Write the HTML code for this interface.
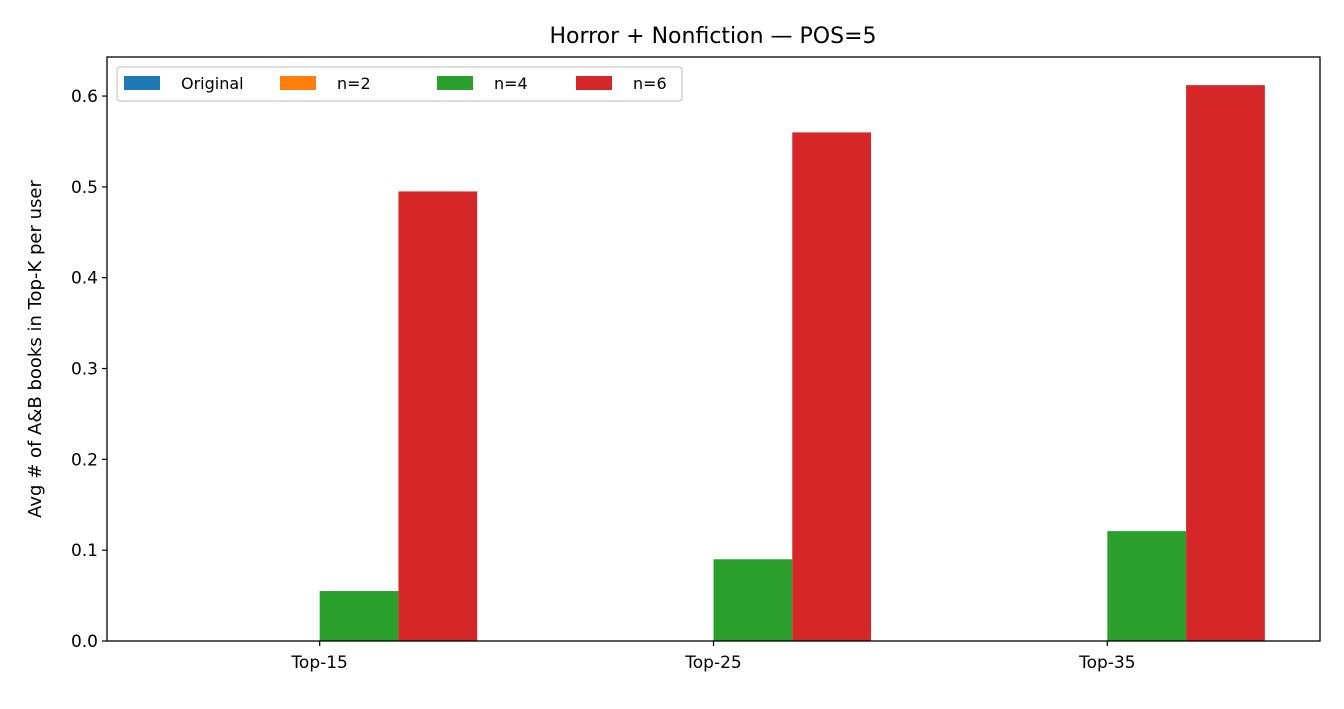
<!DOCTYPE html>
<html><head><meta charset="utf-8"><style>
body{margin:0;background:#fff;}
svg text{font-family:"DejaVu Sans","Liberation Sans",sans-serif;fill:#000;}
</style></head><body>
<svg id="chart" width="1344" height="704" xmlns="http://www.w3.org/2000/svg">
<text x="713" y="43" font-size="22" text-anchor="middle">Horror + Nonfiction — POS=5</text>
<g id="bars"></g>
<g id="axes"></g>
<rect x="107" y="57" width="1213" height="584" fill="none" stroke="#000" stroke-width="1.3"/>
<text transform="translate(41,349) rotate(-90)" font-size="18" text-anchor="middle">Avg # of A&amp;B books in Top-K per user</text>
<g>
<rect x="117" y="67" width="565" height="34" rx="3" fill="#fff" stroke="#ccc" stroke-width="1.3"/>
<g id="legend-items"></g>
</g>
</svg>
<script>
const categories = ["Top-15","Top-25","Top-35"];
const seriesNames = ["Original","n=2","n=4","n=6"];
const seriesColors = ["#1f77b4","#ff7f0e","#2ca02c","#d62728"];
const original = [0,0,0];
const n2 = [0,0,0];
const n4 = [0.055,0.090,0.121];
const n6 = [0.495,0.560,0.612];
const yTicks = [0,0.1,0.2,0.3,0.4,0.5,0.6];
const yTickLabels = ["0.0","0.1","0.2","0.3","0.4","0.5","0.6"];

const NS="http://www.w3.org/2000/svg";
const L=107,R=1320,T=57,B=641;
const xMin=-0.54,xMax=2.54,yMax=0.643;
function xs(v){return L+(v-xMin)/(xMax-xMin)*(R-L);}
function ys(v){return B-v/yMax*(B-T);}
function mk(tag,attrs,parent){const e=document.createElementNS(NS,tag);for(const k in attrs)e.setAttribute(k,attrs[k]);parent.appendChild(e);return e;}
const series=[original,n2,n4,n6];
const bw=0.2;
const gb=document.getElementById('bars');
series.forEach((s,si)=>{s.forEach((v,ci)=>{
  const x0=xs(ci-0.4+si*bw),x1=xs(ci-0.4+(si+1)*bw);
  const r=mk('rect',{x:x0,y:ys(v),width:x1-x0,height:B-ys(v),fill:seriesColors[si]},gb);
  
  
});});
const ga=document.getElementById('axes');
yTicks.forEach((t,i)=>{
  const y=ys(t);
  const l=mk('line',{x1:L-5,x2:L,y1:y,y2:y,stroke:'#000','stroke-width':1.2},ga);
  
  
  const tx=mk('text',{x:L-9,y:y+6,'font-size':17,'text-anchor':'end'},ga);
  tx.textContent=yTickLabels[i];
  
  
});
categories.forEach((c,i)=>{
  const x=xs(i);
  const l=mk('line',{x1:x,x2:x,y1:B,y2:B+5,stroke:'#000','stroke-width':1.2},ga);
  
  
  const tx=mk('text',{x:x,y:B+27,'font-size':17,'text-anchor':'middle'},ga);
  tx.textContent=c;
  
  
});
const lg=document.getElementById('legend-items');
const lx=[124,280,437,576];
seriesNames.forEach((n,i)=>{
  const r=mk('rect',{x:lx[i],y:76,width:36,height:14,fill:seriesColors[i]},lg);
  
  
  const t=mk('text',{x:lx[i]+57,y:89,'font-size':16},lg);
  t.textContent=n;
  
  
});
</script>
</body></html>
